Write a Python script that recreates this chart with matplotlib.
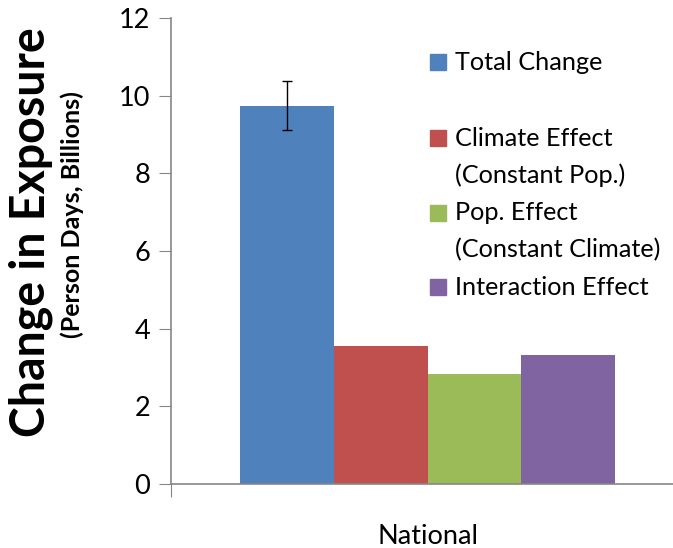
import numpy as np
import matplotlib.pyplot as plt
from matplotlib.patches import Rectangle

plt.rcParams['font.family'] = ['Lato', 'DejaVu Sans']

# data
category = 'National'
series = ['Total Change', 'Climate Effect\n(Constant Pop.)',
          'Pop. Effect\n(Constant Climate)', 'Interaction Effect']
values = [9.73, 3.56, 2.84, 3.32]
err_low = [0.61, 0, 0, 0]
err_high = [0.64, 0, 0, 0]
colors = ['#4F81BD', '#C0504D', '#9BBB59', '#8064A2']
yticks = [0, 2, 4, 6, 8, 10, 12]

W, H = 673, 548
fig = plt.figure(figsize=(W / 100, H / 100), dpi=100)
ax = fig.add_axes([171 / W, 64 / H, 513 / W, 466 / H])

width = 0.1827
n = len(values)
x = (np.arange(n) - (n - 1) / 2) * width
for i in range(n):
    ax.bar(x[i], values[i], width=width, color=colors[i], zorder=2)
ax.errorbar(x[0], values[0], yerr=[[err_low[0]], [err_high[0]]], fmt='none',
            ecolor='black', elinewidth=1, capsize=3.5, capthick=1, zorder=3)

ax.set_xlim(-0.5, 0.5)
ax.set_ylim(0, 12)
ax.set_yticks(yticks)
ax.set_yticklabels([str(t) for t in yticks], fontsize=19.5)
ax.set_xticks([-0.5, 0.5])
ax.set_xticklabels(['', ''])
ax.set_xticks([0], minor=True)
ax.set_xticklabels([category], minor=True, fontsize=19.5)
ax.tick_params(axis='x', which='minor', length=0, pad=29)
ax.tick_params(axis='x', which='major', length=9, color='#868686', direction='out')
ax.tick_params(axis='y', length=9, color='#868686', direction='out', pad=6)

for s in ['top', 'right']:
    ax.spines[s].set_visible(False)
for s in ['left', 'bottom']:
    ax.spines[s].set_color('#868686')
    ax.spines[s].set_linewidth(1.2)

# axis titles
fig.text(31 / W, 1 - 232 / H, 'Change in Exposure', rotation=90, fontsize=33.5,
         fontweight='bold', ha='center', va='center')
fig.text(72 / W, 1 - 215 / H, '(Person Days, Billions)', rotation=90, fontsize=18,
         fontweight='bold', ha='center', va='center')

# legend
legend_y = [62, 138, 213, 287]
for i in range(n):
    yc = 1 - legend_y[i] / H
    fig.patches.append(Rectangle((430 / W, yc - 8 / H), 16 / W, 16 / H,
                                 transform=fig.transFigure, color=colors[i]))
    lines = series[i].split('\n')
    for j, line in enumerate(lines):
        fig.text(455 / W, yc - j * 37 / H, line, fontsize=18.2, ha='left', va='center')

fig.savefig('out.png', dpi=100)
